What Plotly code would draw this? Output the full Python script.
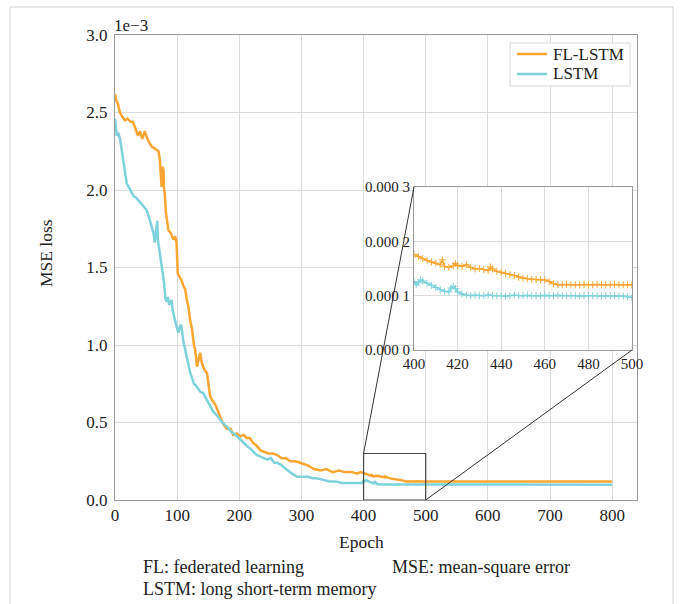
import plotly.graph_objects as go

# ---------------- data (MSE loss in units of 1e-3) ----------------
fl_epoch = [0, 2, 5, 8, 12, 16, 20, 25, 29, 33, 37, 40, 44, 48, 52, 56, 59, 63, 67, 70, 72, 74, 75, 76, 78, 79,
            80, 82, 84, 86, 90, 94, 97, 99, 101, 104, 107, 110, 113, 116, 118, 121, 124, 127, 129, 132, 135, 137,
            140, 144, 148, 151, 153, 157, 161, 165, 169, 174, 180, 186, 190, 196, 201, 207, 212, 217, 222, 228,
            234, 240, 247, 254, 261, 268, 275, 282, 290, 298, 305, 312, 320, 331, 340, 350, 360, 370, 380, 390, 395,
            400, 402, 404, 406, 408, 410, 412, 413, 414, 416, 418, 419, 420, 422, 424, 426, 428, 430, 432, 434, 435,
            436, 438, 440, 442, 444, 446, 448, 450, 452, 454, 456, 458, 460, 462, 464, 466, 468, 470, 472, 474, 476,
            478, 480, 482, 484, 486, 488, 490, 492, 494, 496, 498, 500, 550, 600, 650, 700, 750, 800]
fl_mse = [2.62, 2.58, 2.55, 2.50, 2.47, 2.45, 2.46, 2.44, 2.44, 2.40, 2.35, 2.38, 2.33, 2.38, 2.33, 2.30, 2.28, 2.27,
          2.26, 2.25, 2.20, 2.05, 2.02, 2.15, 2.13, 2.00, 1.98, 1.85, 1.78, 1.74, 1.72, 1.68, 1.70, 1.66, 1.46, 1.44,
          1.42, 1.38, 1.36, 1.28, 1.25, 1.16, 1.10, 1.00, 0.97, 0.86, 0.92, 0.95, 0.88, 0.84, 0.82, 0.72, 0.67, 0.64,
          0.62, 0.58, 0.54, 0.49, 0.46, 0.46, 0.42, 0.43, 0.41, 0.42, 0.40, 0.40, 0.37, 0.35, 0.32, 0.31, 0.30, 0.30,
          0.29, 0.27, 0.27, 0.25, 0.25, 0.24, 0.23, 0.22, 0.20, 0.19, 0.20, 0.18, 0.19, 0.18, 0.18, 0.17, 0.18,
          0.176, 0.172, 0.168, 0.165, 0.162, 0.160, 0.157, 0.166, 0.154, 0.152, 0.155, 0.159, 0.156, 0.154, 0.157,
          0.152, 0.149, 0.150, 0.148, 0.146, 0.153, 0.149, 0.145, 0.143, 0.141, 0.139, 0.137, 0.134, 0.132, 0.131,
          0.130, 0.130, 0.129, 0.129, 0.126, 0.122, 0.120, 0.120, 0.121, 0.120, 0.120, 0.120, 0.121, 0.120, 0.120,
          0.121, 0.120, 0.120, 0.120, 0.121, 0.120, 0.120, 0.120, 0.120, 0.120, 0.120, 0.120, 0.120, 0.120, 0.120]

lstm_epoch = [0, 1, 3, 5, 8, 10, 13, 16, 19, 22, 26, 30, 34, 38, 42, 46, 51, 55, 59, 62, 64, 66, 67, 68, 69, 71, 73,
              75, 77, 79, 81, 83, 85, 87, 89, 91, 93, 96, 99, 102, 105, 107, 110, 113, 116, 119, 121, 124, 127, 130,
              132, 137, 142, 146, 150, 153, 158, 163, 169, 175, 181, 187, 191, 196, 201, 207, 212, 218, 223, 228, 234,
              240, 245, 251, 256, 261, 266, 272, 278, 285, 293, 300, 310, 318, 325, 335, 345, 355, 365, 379, 390, 398,
              400, 401, 402, 403, 404, 406, 408, 410, 412, 414, 416, 417, 418, 419, 420, 422, 424, 426, 428, 430, 432,
              434, 436, 438, 440, 442, 444, 446, 448, 450, 452, 454, 456, 458, 460, 462, 464, 466, 468, 470, 472, 474,
              476, 478, 480, 482, 484, 486, 488, 490, 492, 494, 496, 498, 500, 550, 600, 650, 700, 750, 800]
lstm_mse = [2.46, 2.40, 2.35, 2.37, 2.33, 2.28, 2.19, 2.12, 2.04, 2.02, 1.99, 1.96, 1.95, 1.93, 1.91, 1.89, 1.87, 1.82,
            1.76, 1.72, 1.66, 1.72, 1.74, 1.80, 1.68, 1.62, 1.58, 1.50, 1.43, 1.40, 1.30, 1.28, 1.31, 1.26, 1.27, 1.29,
            1.22, 1.16, 1.12, 1.08, 1.13, 1.12, 1.02, 0.97, 0.92, 0.85, 0.82, 0.79, 0.75, 0.74, 0.73, 0.70, 0.69, 0.66,
            0.62, 0.60, 0.57, 0.55, 0.52, 0.49, 0.47, 0.44, 0.43, 0.41, 0.39, 0.37, 0.35, 0.33, 0.31, 0.29, 0.28, 0.27,
            0.26, 0.27, 0.24, 0.24, 0.23, 0.21, 0.19, 0.17, 0.15, 0.15, 0.15, 0.14, 0.14, 0.13, 0.12, 0.12, 0.11, 0.11,
            0.11, 0.11,
            0.126, 0.120, 0.124, 0.129, 0.127, 0.123, 0.119, 0.115, 0.111, 0.108, 0.107, 0.114, 0.117, 0.113, 0.107,
            0.103, 0.101, 0.100, 0.101, 0.100, 0.100, 0.101, 0.100, 0.100, 0.100, 0.099, 0.100, 0.101, 0.100, 0.100,
            0.101, 0.100, 0.100, 0.100, 0.101, 0.100, 0.100, 0.101, 0.100, 0.100, 0.100, 0.100, 0.099, 0.100, 0.100,
            0.100, 0.100, 0.099, 0.100, 0.100, 0.100, 0.099, 0.099, 0.098, 0.097, 0.100, 0.101, 0.100, 0.100, 0.100,
            0.099]

series_names = ["FL-LSTM", "LSTM"]
main_xticks = [0, 100, 200, 300, 400, 500, 600, 700, 800]
main_yticks = [0.0, 0.5, 1.0, 1.5, 2.0, 2.5, 3.0]
main_ytext = ["0.0", "0.5", "1.0", "1.5", "2.0", "2.5", "3.0"]
inset_xticks = [400, 420, 440, 460, 480, 500]
inset_yticks = [0.0, 0.1, 0.2, 0.3]
inset_ytext = ["0.000 0", "0.000 1", "0.000 2", "0.000 3"]
zoom_x = [400, 500]
zoom_y = [0.0, 0.3]

# ---------------- layout geometry ----------------
W, H = 684, 604
FONT = "Liberation Serif, Times New Roman, serif"
ORANGE = "#FBA632"
CYAN = "#7ED2DC"
main_px = (115, 637)     # left/right pixels
main_py = (35, 500)      # top/bottom pixels
inset_px = (414, 632)
inset_py = (187, 350)
main_xrange = [0, 840]
main_yrange = [0, 3.0]


def px2paper_x(p):
    return p / W


def py2paper_y(p):
    return (H - p) / H


main_dx = [px2paper_x(main_px[0]), px2paper_x(main_px[1])]
main_dy = [py2paper_y(main_py[1]), py2paper_y(main_py[0])]
inset_dx = [px2paper_x(inset_px[0]), px2paper_x(inset_px[1])]
inset_dy = [py2paper_y(inset_py[1]), py2paper_y(inset_py[0])]


def main_to_paper(xv, yv):
    fx = (xv - main_xrange[0]) / (main_xrange[1] - main_xrange[0])
    fy = (yv - main_yrange[0]) / (main_yrange[1] - main_yrange[0])
    return (main_dx[0] + fx * (main_dx[1] - main_dx[0]),
            main_dy[0] + fy * (main_dy[1] - main_dy[0]))


def tfont(size):
    return dict(family=FONT, size=size, color="#222")


fig = go.Figure()

fig.add_trace(go.Scatter(x=fl_epoch, y=fl_mse, mode="lines", name=series_names[0], showlegend=False,
                         line=dict(color=ORANGE, width=2.5), xaxis="x", yaxis="y"))
fig.add_trace(go.Scatter(x=lstm_epoch, y=lstm_mse, mode="lines", name=series_names[1], showlegend=False,
                         line=dict(color=CYAN, width=2.5), xaxis="x", yaxis="y"))

# inset (same series, zoomed region)
fl_in = [(e, v) for e, v in zip(fl_epoch, fl_mse) if zoom_x[0] <= e <= zoom_x[1]]
ls_in = [(e, v) for e, v in zip(lstm_epoch, lstm_mse) if zoom_x[0] <= e <= zoom_x[1]]
fig.add_trace(go.Scatter(x=[p[0] for p in fl_in], y=[p[1] for p in fl_in], mode="lines+markers",
                         showlegend=False, line=dict(color=ORANGE, width=1.5),
                         marker=dict(symbol="cross-thin", size=5, line=dict(color=ORANGE, width=1)),
                         xaxis="x2", yaxis="y2"))
fig.add_trace(go.Scatter(x=[p[0] for p in ls_in], y=[p[1] for p in ls_in], mode="lines+markers",
                         showlegend=False, line=dict(color=CYAN, width=1.5),
                         marker=dict(symbol="cross-thin", size=5, line=dict(color=CYAN, width=1)),
                         xaxis="x2", yaxis="y2"))

axis_common = dict(showgrid=True, gridcolor="#dcdcdc", gridwidth=1, zeroline=False, automargin=False,
                   showline=True, linecolor="#9a9a9a", linewidth=1, mirror=True, ticks="")

fig.update_layout(
    width=W, height=H,
    margin=dict(l=0, r=0, t=0, b=0, autoexpand=False),
    paper_bgcolor="white", plot_bgcolor="white",
    font=tfont(17),
    xaxis=dict(domain=main_dx, range=main_xrange, tickvals=main_xticks,
               tickfont=tfont(17), anchor="y", **axis_common),
    yaxis=dict(domain=main_dy, range=main_yrange, tickvals=main_yticks, ticktext=main_ytext,
               tickfont=tfont(17), anchor="x", ticklabelstandoff=3, **axis_common),
    xaxis2=dict(domain=inset_dx, range=[400, 500], tickvals=inset_xticks, anchor="y2",
                tickfont=tfont(15), **axis_common),
    yaxis2=dict(domain=inset_dy, range=[0, 0.3], tickvals=inset_yticks, ticktext=inset_ytext,
                anchor="x2", tickfont=tfont(15), **axis_common),
    showlegend=False,
)

shapes = []
# outer frame
shapes.append(dict(type="rect", xref="paper", yref="paper", x0=px2paper_x(10), x1=px2paper_x(673),
                   y0=py2paper_y(612), y1=py2paper_y(7), line=dict(color="#cfcfcf", width=1),
                   fillcolor="rgba(0,0,0,0)", layer="below"))
# zoom rectangle
shapes.append(dict(type="rect", xref="x", yref="y", x0=zoom_x[0], x1=zoom_x[1], y0=zoom_y[0], y1=zoom_y[1],
                   line=dict(color="#444", width=1.2)))
# connector lines
p1 = main_to_paper(zoom_x[0], zoom_y[1])
p2 = main_to_paper(zoom_x[1], zoom_y[0])
shapes.append(dict(type="line", xref="paper", yref="paper", x0=p1[0], y0=p1[1],
                   x1=inset_dx[0], y1=inset_dy[1], line=dict(color="#333", width=1)))
shapes.append(dict(type="line", xref="paper", yref="paper", x0=p2[0], y0=p2[1],
                   x1=inset_dx[1], y1=inset_dy[0], line=dict(color="#333", width=1)))
# legend box and samples
shapes.append(dict(type="rect", xref="paper", yref="paper", x0=px2paper_x(510), x1=px2paper_x(630),
                   y0=py2paper_y(86), y1=py2paper_y(43), line=dict(color="#d8d8d8", width=1),
                   fillcolor="white"))
legend_rows = [(ORANGE, 54), (CYAN, 74)]
for col, yy in legend_rows:
    shapes.append(dict(type="line", xref="paper", yref="paper", x0=px2paper_x(517), x1=px2paper_x(547),
                       y0=py2paper_y(yy), y1=py2paper_y(yy), line=dict(color=col, width=2.5)))
fig.update_layout(shapes=shapes)

ann = []
for name, (col, yy) in zip(series_names, legend_rows):
    ann.append(dict(text=name, xref="paper", yref="paper", x=px2paper_x(551), y=py2paper_y(yy),
                    xanchor="left", yanchor="middle", showarrow=False, font=tfont(17)))
ann.append(dict(text="1e\u22123", xref="paper", yref="paper", x=px2paper_x(112), y=py2paper_y(25),
                xanchor="left", yanchor="middle", showarrow=False, font=tfont(17)))
ann.append(dict(text="Epoch", xref="paper", yref="paper", x=px2paper_x(361), y=py2paper_y(542),
                xanchor="center", yanchor="middle", showarrow=False, font=tfont(17.5)))
ann.append(dict(text="MSE loss", xref="paper", yref="paper", x=px2paper_x(46), y=py2paper_y(253),
                xanchor="center", yanchor="middle", textangle=-90, showarrow=False, font=tfont(17.5)))
ann.append(dict(text="FL: federated learning", xref="paper", yref="paper", x=px2paper_x(141),
                y=py2paper_y(567), xanchor="left", yanchor="middle", showarrow=False, font=tfont(18)))
ann.append(dict(text="MSE: mean-square error", xref="paper", yref="paper", x=px2paper_x(390),
                y=py2paper_y(567), xanchor="left", yanchor="middle", showarrow=False, font=tfont(18)))
ann.append(dict(text="LSTM: long short-term memory", xref="paper", yref="paper", x=px2paper_x(141),
                y=py2paper_y(589), xanchor="left", yanchor="middle", showarrow=False, font=tfont(18)))
fig.update_layout(annotations=ann)

fig.write_html("out.html", config={"displayModeBar": False},
               post_script="document.body.style.margin='0';")
